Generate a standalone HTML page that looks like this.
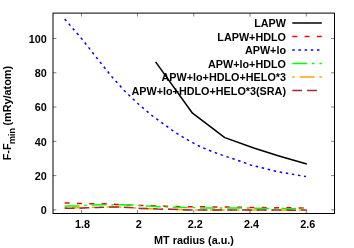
<!DOCTYPE html>
<html><head><meta charset="utf-8"><title>plot</title>
<style>
html,body{margin:0;padding:0;background:#fff;}
svg{display:block;will-change:transform;}
text{font-family:"Liberation Sans",sans-serif;font-weight:bold;font-size:10.8px;fill:#000;}
</style></head><body>
<svg width="354" height="248" viewBox="0 0 354 248">
<rect x="0" y="0" width="354" height="248" fill="#fff"/>
<polyline points="155.60,61.90 192.50,113.20 224.80,137.60 254.50,148.30 279.80,156.20 306.80,164.00" fill="none" stroke-linejoin="round" stroke="#000" stroke-width="1.5"/>
<polyline points="64.70,203.05 70.00,203.05 79.50,203.50 91.60,203.73 104.00,203.70 116.50,204.50 142.50,205.50 153.50,205.65 165.00,206.20 178.00,206.60 190.40,206.85 202.00,206.80 214.70,206.95 227.00,207.05 239.40,207.15 251.40,207.50 264.00,207.60 276.00,207.80 288.50,207.60 300.60,208.00 306.60,208.00" fill="none" stroke-linejoin="round" stroke="#ff0000" stroke-width="1.5" stroke-dasharray="4.93,7.39"/>
<polyline points="64.70,19.10 81.70,38.70 100.00,62.00 112.70,77.80 125.40,91.80 138.10,103.70 150.90,114.70 162.70,123.40 175.40,132.50 188.10,140.20 200.90,147.00 213.60,152.10 226.30,156.60 237.70,160.30 250.40,164.90 275.90,171.30 305.90,176.60" fill="none" stroke-linejoin="round" stroke="#0000ff" stroke-width="1.5" stroke-dasharray="2.47,3.70"/>
<polyline points="64.70,205.90 80.00,205.90 85.70,205.25 92.00,205.10 100.00,204.85 112.50,204.65 121.00,204.70 129.00,204.95 134.00,205.00 139.70,205.70 146.00,206.05 161.00,206.65 166.80,207.05 173.00,207.30 186.00,207.55 194.00,207.60 200.00,207.90 210.00,207.97 220.70,207.90 234.00,208.00 247.70,207.97 254.00,208.20 266.00,208.45 275.00,208.50 290.00,208.65 302.00,208.60 306.60,208.60" fill="none" stroke-linejoin="round" stroke="#00ff00" stroke-width="1.5" stroke-dasharray="14.78,4.93,2.46,4.93"/>
<polyline points="64.70,207.80 77.00,207.70 87.00,207.50 93.00,207.35 97.00,207.40 109.00,207.05 119.00,207.05 129.00,207.60 135.00,207.90 140.00,208.50 146.00,208.60 150.50,208.75 158.00,209.05 173.00,209.30 180.00,209.60 188.00,209.90 196.00,209.90 206.00,210.00 217.00,209.95 232.00,209.90 248.00,209.90 260.00,209.90 276.00,209.90 291.00,210.15 306.60,210.10" fill="none" stroke-linejoin="round" stroke="#ffa500" stroke-width="1.5" stroke-dasharray="2.46,4.93,14.78,4.93,2.46,4.93"/>
<polyline points="64.70,208.35 77.00,208.35 87.00,207.70 97.00,207.45 109.00,207.05 119.00,207.05 129.00,207.60 135.00,207.90 140.00,208.50 146.00,208.60 150.50,208.75 158.00,209.05 173.00,209.30 180.00,209.60 188.00,209.90 196.00,209.90 206.00,210.00 217.00,209.95 232.00,209.90 248.00,209.90 260.00,209.90 276.00,209.90 291.00,210.15 306.60,210.10" fill="none" stroke-linejoin="round" stroke="#a52a2a" stroke-width="1.5" stroke-dasharray="9.85,4.93"/>
<rect x="53.0" y="13.1" width="281.5" height="200.4" fill="none" stroke="#000" stroke-width="1"/>
<path d="M81.45,213.5v-3.4 M81.45,13.1v3.4 M137.45,213.5v-3.4 M137.45,13.1v3.4 M193.75,213.5v-3.4 M193.75,13.1v3.4 M250.05,213.5v-3.4 M250.05,13.1v3.4 M306.35,213.5v-3.4 M306.35,13.1v3.4 M53.0,209.85h3.4 M334.5,209.85h-3.4 M53.0,175.58h3.4 M334.5,175.58h-3.4 M53.0,141.32h3.4 M334.5,141.32h-3.4 M53.0,107.05h3.4 M334.5,107.05h-3.4 M53.0,72.79h3.4 M334.5,72.79h-3.4 M53.0,38.52h3.4 M334.5,38.52h-3.4" stroke="#000" stroke-width="0.5" fill="none"/>
<text x="82.55" y="228.2" text-anchor="middle">1.8</text>
<text x="138.85" y="228.2" text-anchor="middle">2</text>
<text x="195.15" y="228.2" text-anchor="middle">2.2</text>
<text x="251.45" y="228.2" text-anchor="middle">2.4</text>
<text x="307.75" y="228.2" text-anchor="middle">2.6</text>
<text x="46.7" y="214.05" text-anchor="end">0</text>
<text x="46.7" y="179.78" text-anchor="end">20</text>
<text x="46.7" y="145.52" text-anchor="end">40</text>
<text x="46.7" y="111.25" text-anchor="end">60</text>
<text x="46.7" y="76.99" text-anchor="end">80</text>
<text x="46.7" y="42.72" text-anchor="end">100</text>
<text x="194.0" y="243.6" text-anchor="middle" font-size="10.57">MT radius (a.u.)</text>
<text transform="translate(11.1,160.3) rotate(-90)" text-anchor="start">F-F<tspan font-size="9" dy="3.7" dx="-0.6">min</tspan><tspan dy="-3.7" dx="-0.5" font-size="10.85"> (mRy/atom)</tspan></text>
<text x="286" y="27.00" text-anchor="end">LAPW</text>
<path d="M292.3,23.00H321.8" stroke="#000" stroke-width="1.5" fill="none"/>
<text x="286" y="40.50" text-anchor="end">LAPW+HDLO</text>
<path d="M292.3,36.50H321.8" stroke="#ff0000" stroke-width="1.5" fill="none" stroke-dasharray="4.93,7.39"/>
<text x="286" y="54.00" text-anchor="end">APW+lo</text>
<path d="M292.3,50.00H321.8" stroke="#0000ff" stroke-width="1.5" fill="none" stroke-dasharray="2.47,3.70"/>
<text x="286" y="67.50" text-anchor="end">APW+lo+HDLO</text>
<path d="M292.3,63.50H321.8" stroke="#00ff00" stroke-width="1.5" fill="none" stroke-dasharray="14.78,4.93,2.46,4.93"/>
<text x="286" y="81.00" text-anchor="end">APW+lo+HDLO+HELO*3</text>
<path d="M292.3,77.00H321.8" stroke="#ffa500" stroke-width="1.5" fill="none" stroke-dasharray="2.46,4.93,14.78,4.93,2.46,4.93"/>
<text x="286" y="94.50" text-anchor="end">APW+lo+HDLO+HELO*3(SRA)</text>
<path d="M292.3,90.50H321.8" stroke="#a52a2a" stroke-width="1.5" fill="none" stroke-dasharray="9.85,4.93"/>
</svg>
</body></html>
